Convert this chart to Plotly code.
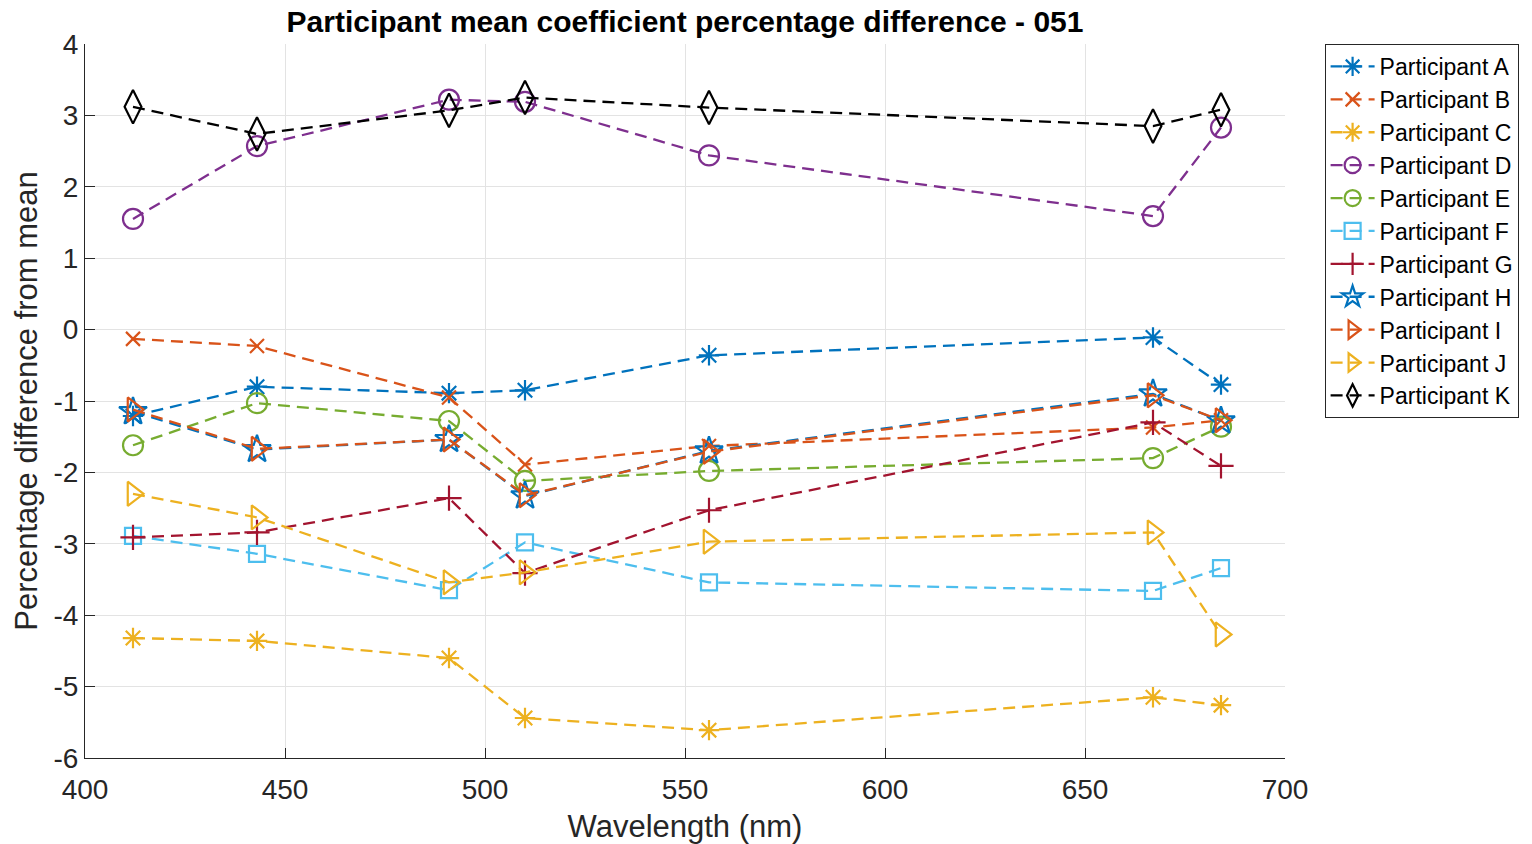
import plotly.graph_objects as go

wavelength = [412, 443, 491, 510, 556, 667, 684]

names = ["Participant A", "Participant B", "Participant C", "Participant D",
         "Participant E", "Participant F", "Participant G", "Participant H",
         "Participant I", "Participant J", "Participant K"]

part_a = [-1.21, -0.80, -0.89, -0.85, -0.36, -0.11, -0.77]
part_b = [-0.13, -0.23, -0.95, -1.89, -1.63, -1.37, -1.27]
part_c = [-4.32, -4.36, -4.60, -5.44, -5.61, -5.15, -5.26]
part_d = [1.55, 2.57, 3.22, 3.19, 2.44, 1.59, 2.83]
part_e = [-1.62, -1.03, -1.28, -2.12, -1.98, -1.80, -1.36]
part_f = [-2.89, -3.14, -3.65, -2.98, -3.54, -3.66, -3.34]
part_g = [-2.91, -2.84, -2.36, -3.41, -2.53, -1.30, -1.91]
part_h = [-1.15, -1.68, -1.54, -2.33, -1.70, -0.90, -1.28]
part_i = [-1.12, -1.67, -1.54, -2.32, -1.71, -0.92, -1.27]
part_j = [-2.30, -2.63, -3.54, -3.40, -2.97, -2.84, -4.27]
part_k = [3.12, 2.74, 3.07, 3.25, 3.11, 2.85, 3.08]

series = [part_a, part_b, part_c, part_d, part_e, part_f, part_g,
          part_h, part_i, part_j, part_k]

x_ticks = [400, 450, 500, 550, 600, 650, 700]
y_ticks = [-6, -5, -4, -3, -2, -1, 0, 1, 2, 3, 4]
y_tick_labels = ["-6", "-5", "-4", "-3", "-2", "-1", "0", "1", "2", "3", "4"]

colors = ["#0072BD", "#D95319", "#EDB120", "#7E2F8E", "#77AC30", "#4DBEEE",
          "#A2142F", "#0072BD", "#D95319", "#EDB120", "#000000"]
symbols = ["asterisk-open", "x-thin-open", "asterisk-open", "circle-open",
           "circle-open", "square-open", "cross-thin-open", "star-open",
           "triangle-right-open", "triangle-right-open", "diamond-tall-open"]
sizes = [17, 14, 17, 20, 20, 16, 18, 21, 21, 21, 24]

FONT = "Liberation Sans, Arial, sans-serif"

fig = go.Figure()
for name, vals, c, s, sz in zip(names, series, colors, symbols, sizes):
    fig.add_trace(go.Scatter(
        x=wavelength, y=vals, name=name, mode="lines+markers",
        line=dict(color=c, width=2.3, dash="12px,7px"),
        marker=dict(symbol=s, size=sz, color=c, line=dict(color=c, width=2.2)),
    ))

fig.update_layout(
    width=1532, height=844,
    paper_bgcolor="white", plot_bgcolor="white",
    margin=dict(l=85, r=247, t=44, b=86),
    font=dict(family=FONT, color="#262626"),
    title=dict(text="<b>Participant mean coefficient percentage difference - 051</b>",
               x=0.5, xref="paper", xanchor="center",
               y=1 - 21 / 844, yref="container", yanchor="middle",
               font=dict(size=30, color="black", family=FONT)),
    showlegend=True,
    legend=dict(x=1.033, xanchor="left", y=1.0, yanchor="top",
                bordercolor="#262626", borderwidth=1, bgcolor="white",
                font=dict(size=23, color="black", family=FONT),
                itemwidth=44, tracegroupgap=0),
)
fig.update_xaxes(
    range=[400, 700], tickvals=x_ticks, automargin=False,
    showgrid=True, gridcolor="#e3e3e3", gridwidth=1,
    showline=True, linecolor="#262626", linewidth=1,
    ticks="inside", ticklen=10, tickcolor="#262626",
    tickfont=dict(size=28), zeroline=False, ticklabelstandoff=6,
    title=dict(text="Wavelength (nm)", font=dict(size=31), standoff=12),
)
fig.update_yaxes(
    range=[-6, 4], tickvals=y_ticks, ticktext=y_tick_labels, automargin=False,
    showgrid=True, gridcolor="#e3e3e3", gridwidth=1,
    showline=True, linecolor="#262626", linewidth=1,
    ticks="inside", ticklen=10, tickcolor="#262626",
    tickfont=dict(size=28), zeroline=False,
    title=dict(text="Percentage difference from mean", font=dict(size=31), standoff=6),
)

fig.write_html("out.html")
